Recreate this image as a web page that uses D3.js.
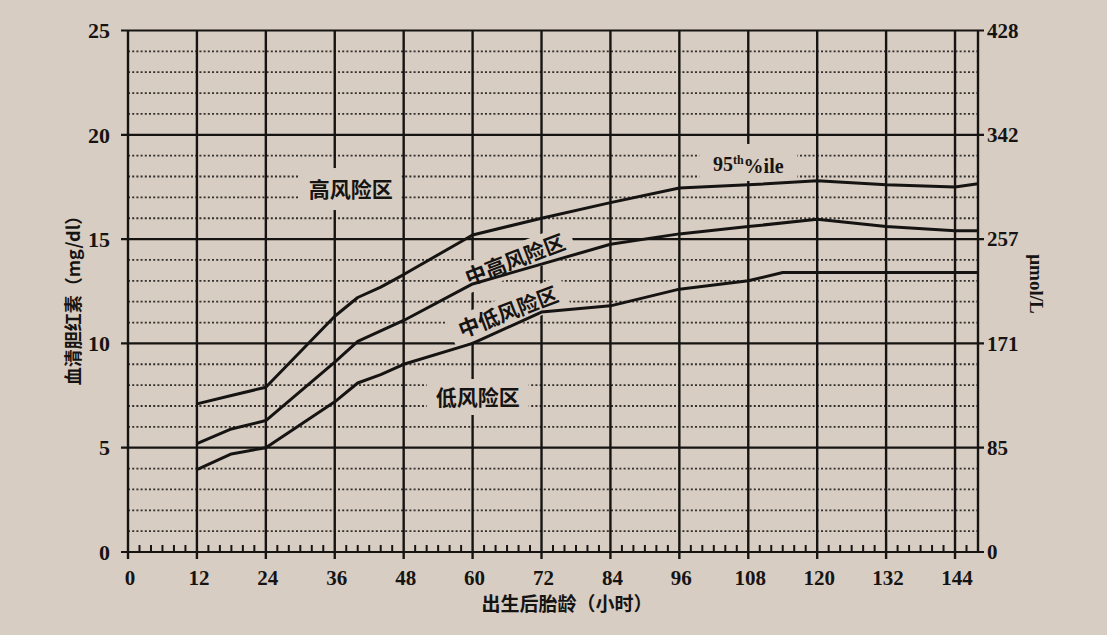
<!DOCTYPE html>
<html><head><meta charset="utf-8">
<script src="https://cdn.jsdelivr.net/npm/d3@7"></script>
<style>html,body{margin:0;padding:0;background:#d8cdc3;} svg{display:block}</style>
</head><body><svg id="c" width="1107" height="635"></svg>
<script>
// ---- data ----
const hourTicks = [0,12,24,36,48,60,72,84,96,108,120,132,144];
const mgTicks = [0,5,10,15,20,25];
const umolLabels = ["0","85","171","257","342","428"];
const p95Hours  = [12,18,24,36,40,44,48,60,72,84,96,108,120,132,144,148];
const p95Values = [7.1,7.5,7.9,11.3,12.2,12.7,13.3,15.2,16.0,16.75,17.45,17.6,17.8,17.6,17.5,17.65];
const p75Hours  = [12,18,24,36,40,48,60,72,84,96,108,120,132,144,148];
const p75Values = [5.2,5.9,6.3,9.1,10.1,11.1,12.85,13.8,14.75,15.25,15.6,15.95,15.6,15.4,15.4];
const p40Hours  = [12,18,24,36,40,44,48,60,72,84,96,108,114,120,148];
const p40Values = [3.95,4.7,5.0,7.2,8.1,8.5,9.0,10.0,11.5,11.8,12.6,13.0,13.4,13.4,13.4];
const zoneNames = ["高风险区","中高风险区","中低风险区","低风险区"];
const zoneHours = [38.8,67.4,66.2,60.9];
const zoneValues = [17.4,14.0,11.5,7.43];
const zoneAngles = [0,-21,-21,0];
const xTitle = "出生后胎龄（小时）";
const yTitle = "血清胆红素（mg/dl）";
const y2Title = "μmol/L";

// ---- drawing ----
const svg = d3.select("#c");
const ink = "#161412";
const paper = "#d8cdc3";
const x = d3.scaleLinear().domain([0,148]).range([128,978]);
const y = d3.scaleLinear().domain([0,25]).range([552,30.5]);

svg.append("rect").attr("width",1107).attr("height",635).attr("fill",paper);

// minor dotted horizontal lines
const minor = d3.range(1,25).filter(v => v % 5 !== 0);
svg.append("g").selectAll("line").data(minor).join("line")
  .attr("x1",x(0)).attr("x2",x(148)).attr("y1",d=>y(d)).attr("y2",d=>y(d))
  .attr("stroke",ink).attr("stroke-width",1.8).attr("stroke-dasharray","2,2.2").attr("opacity",0.85);
// major horizontal
svg.append("g").selectAll("line").data(mgTicks).join("line")
  .attr("x1",x(0)-7).attr("x2",x(148)+6).attr("y1",d=>y(d)).attr("y2",d=>y(d))
  .attr("stroke",ink).attr("stroke-width",2.2);
// vertical lines
svg.append("g").selectAll("line").data(hourTicks).join("line")
  .attr("x1",d=>x(d)).attr("x2",d=>x(d)).attr("y1",y(25)).attr("y2",y(0)+7)
  .attr("stroke",ink).attr("stroke-width",2.4);
svg.append("line").attr("x1",x(148)).attr("x2",x(148)).attr("y1",y(25)).attr("y2",y(0))
  .attr("stroke",ink).attr("stroke-width",2.4);
// minor x ticks
const minorH = d3.range(2,148,2).filter(h => h % 12 !== 0);
svg.append("g").selectAll("line").data(minorH).join("line")
  .attr("x1",d=>x(d)).attr("x2",d=>x(d)).attr("y1",y(0)).attr("y2",y(0)-7)
  .attr("stroke",ink).attr("stroke-width",2);

// label masks
const maskW = [102,122,122,102], maskH = [42,30,30,36];
zoneNames.forEach((n,i)=>{
  svg.append("rect")
    .attr("x",-maskW[i]/2).attr("y",-maskH[i]/2).attr("width",maskW[i]).attr("height",maskH[i])
    .attr("fill",paper)
    .attr("transform",`translate(${x(zoneHours[i])},${y(zoneValues[i])}) rotate(${zoneAngles[i]})`);
});
svg.append("rect").attr("x",x(108)-49).attr("y",y(18.65)-19).attr("width",98).attr("height",37).attr("fill",paper);

// curves
const line = d3.line().x(d=>x(d[0])).y(d=>y(d[1]));
[[p95Hours,p95Values],[p75Hours,p75Values],[p40Hours,p40Values]].forEach(([h,v])=>{
  svg.append("path").datum(d3.zip(h,v)).attr("d",line)
    .attr("fill","none").attr("stroke",ink).attr("stroke-width",3).attr("stroke-linejoin","round");
});

// zone labels
zoneNames.forEach((n,i)=>{
  svg.append("text").text(n)
    .attr("transform",`translate(${x(zoneHours[i])},${y(zoneValues[i])}) rotate(${zoneAngles[i]})`)
    .attr("text-anchor","middle").attr("dy","0.36em")
    .attr("font-family","'Noto Sans CJK SC'").attr("font-weight",700).attr("font-size",21)
    .attr("fill",ink);
});
const t95 = svg.append("text").attr("x",x(108)).attr("y",y(18.65)).attr("dy","0.42em")
  .attr("text-anchor","middle").attr("font-family","'Liberation Serif'").attr("font-weight",700)
  .attr("font-size",20).attr("fill",ink);
t95.append("tspan").text("95");
t95.append("tspan").text("th").attr("font-size",12).attr("dy","-0.6em");
t95.append("tspan").text("%ile").attr("dy","0.45em");

// tick labels
const serif = "'Liberation Serif'";
svg.append("g").selectAll("text").data(mgTicks).join("text")
  .attr("x",x(0)-18).attr("y",d=>y(d)).attr("dy","0.35em").attr("text-anchor","end")
  .attr("font-family",serif).attr("font-weight",700).attr("font-size",22).attr("fill",ink)
  .text(d=>d);
svg.append("g").selectAll("text").data(mgTicks).join("text")
  .attr("x",x(148)+9).attr("y",d=>y(d)).attr("dy","0.35em").attr("text-anchor","start")
  .attr("font-family",serif).attr("font-weight",700).attr("font-size",21).attr("fill",ink)
  .text((d,i)=>umolLabels[i]);
svg.append("g").selectAll("text").data(hourTicks).join("text")
  .attr("x",d=>x(d)+2).attr("y",y(0)+33).attr("text-anchor","middle")
  .attr("font-family",serif).attr("font-weight",700).attr("font-size",21).attr("fill",ink)
  .text(d=>d);

// titles
svg.append("text").text(xTitle).attr("x",567).attr("y",611).attr("text-anchor","middle")
  .attr("font-family","'Noto Sans CJK SC'").attr("font-weight",700).attr("font-size",19).attr("fill",ink);
svg.append("text").text(yTitle).attr("transform","translate(74,296) rotate(-90)").attr("text-anchor","middle")
  .attr("dy","0.35em").attr("font-family","'Noto Sans CJK SC'").attr("font-weight",700).attr("font-size",18).attr("fill",ink);
svg.append("text").text(y2Title).attr("transform","translate(1037,284) rotate(90)").attr("text-anchor","middle")
  .attr("dy","0.35em").attr("font-family",serif).attr("font-weight",700).attr("font-size",19).attr("fill",ink);
</script></body></html>
